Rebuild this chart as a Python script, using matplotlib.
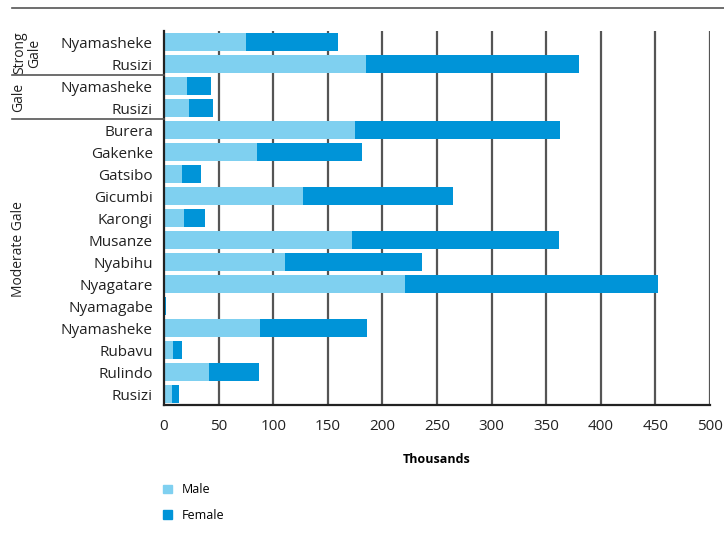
import matplotlib.pyplot as plt
from matplotlib.lines import Line2D
from matplotlib.patches import Patch
import matplotlib.transforms as mtransforms

plt.rcParams['font.family'] = ['Open Sans', 'DejaVu Sans']

# districts from top to bottom
districts = ['Nyamasheke', 'Rusizi', 'Nyamasheke', 'Rusizi', 'Burera', 'Gakenke',
             'Gatsibo', 'Gicumbi', 'Karongi', 'Musanze', 'Nyabihu', 'Nyagatare',
             'Nyamagabe', 'Nyamasheke', 'Rubavu', 'Rulindo', 'Rusizi']
male = [75, 185, 21, 23, 175, 85, 16.5, 127, 18, 172, 111, 221, 0.8, 88, 8, 41, 7]
female = [84, 195, 22, 22, 188, 96, 17.5, 138, 19.5, 190, 125, 231, 0.7, 98, 8.5, 46, 7]
x_ticks = [0, 50, 100, 150, 200, 250, 300, 350, 400, 450, 500]

male_color = '#7fd0f0'
female_color = '#0094d8'
grid_color = '#555555'

fig = plt.figure(figsize=(7.24, 5.45), dpi=100)
ax = fig.add_axes([164/724, 1-405/545, 546/724, 374/545])

ypos = list(range(len(districts)))
ax.barh(ypos, male, height=0.78, color=male_color, zorder=3)
ax.barh(ypos, female, left=male, height=0.78, color=female_color, zorder=3)

ax.set_xlim(0, 500)
ax.set_ylim(len(districts) - 0.5, -0.5)
ax.set_xticks(x_ticks)
ax.set_yticks(ypos)
ax.set_yticklabels(districts)
ax.tick_params(length=0, labelsize=11, colors='#222222')
ax.tick_params(axis='x', pad=10)
ax.tick_params(axis='y', pad=8)

for t in x_ticks[1:]:
    ax.axvline(t, color=grid_color, lw=1.6, zorder=1)
for s in ['top', 'right']:
    ax.spines[s].set_visible(False)
ax.spines['left'].set_color('#222222')
ax.spines['left'].set_linewidth(1.6)
ax.spines['left'].set_zorder(4)
ax.spines['bottom'].set_color('#222222')
ax.spines['bottom'].set_linewidth(1.6)

ax.set_xlabel('Thousands', fontsize=9, fontweight='bold', labelpad=14)

# group labels on the left
trans = mtransforms.blended_transform_factory(fig.transFigure, ax.transData)
for yb in [1.5, 3.5]:
    fig.add_artist(Line2D([12/724, 164/724], [yb, yb], transform=trans,
                          color=grid_color, lw=1.2))
fig.text(27/724, 0.5, 'Strong\nGale', transform=trans, rotation=90,
         ha='center', va='center', fontsize=10, linespacing=1.0, color='#222222')
fig.text(19/724, 2.5, 'Gale', transform=trans, rotation=90,
         ha='center', va='center', fontsize=10, color='#222222')
fig.text(19/724, 9.4, 'Moderate Gale', transform=trans, rotation=90,
         ha='center', va='center', fontsize=10, color='#222222')

# top rule
fig.add_artist(Line2D([12/724, 1], [1-8/545, 1-8/545], color=grid_color, lw=1.2))

handles = [Patch(color=male_color, label='Male'), Patch(color=female_color, label='Female')]
fig.legend(handles=handles, loc='upper left', bbox_to_anchor=(152/724, 1-472/545),
           frameon=False, fontsize=9, handlelength=0.7, handleheight=0.7,
           handletextpad=0.8, labelspacing=1.0)

fig.savefig('out.png', dpi=100)
